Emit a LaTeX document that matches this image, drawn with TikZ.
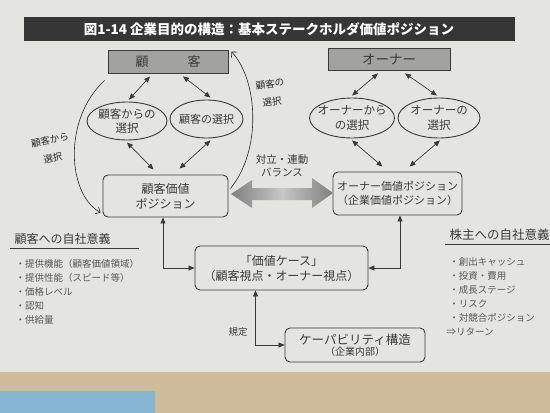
\documentclass[tikz,border=0pt]{standalone}
\usepackage{fontspec}
\newfontfamily\jp{Noto Sans CJK JP}
\usetikzlibrary{arrows.meta,shapes.geometric,calc}
\definecolor{paper}{HTML}{E4E5E1}
\definecolor{ink}{HTML}{3A3A3A}
\definecolor{boxgray}{HTML}{A2A2A0}
\definecolor{bar}{HTML}{363636}
\definecolor{strip}{HTML}{CDBB9C}
\definecolor{bluepatch}{HTML}{86B6D2}
\pgfdeclarehorizontalshading{dbl}{100bp}{color(0bp)=(black!78); color(50bp)=(black!22); color(100bp)=(black!78)}
\begin{document}
\begin{tikzpicture}[x=1pt,y=-1pt,
  fs/.style={font=\jp\fontsize{#1}{\dimexpr #1pt+3pt\relax}\selectfont},
  vbox/.style={draw=ink, line width=0.9pt, rounded corners=5pt, fill=paper, align=center, inner sep=0pt, text=ink},
  topbox/.style={draw=ink, line width=0.8pt, fill=boxgray, align=center, inner sep=0pt, text=ink},
  ell/.style={draw=ink, line width=0.9pt, ellipse, fill=paper, align=center, inner xsep=-12pt, inner ysep=-12pt, text=ink},
  dar/.style={draw=ink, line width=0.7pt, {Triangle[length=6pt,width=5pt]}-{Triangle[length=6pt,width=5pt]}},
  hand/.style={draw=black!85, line width=0.6pt},
  handtxt/.style={text=black!85, fs=9.5}
]
\useasboundingbox (0,0) rectangle (550,413);
\clip (0,0) rectangle (550,413);
% background
\fill[paper] (0,0) rectangle (550,372);
\fill[strip] (0,372) rectangle (550,413);
\fill[bluepatch] (0,391) rectangle (155,413);
% title bar
\fill[bar] (24,17) rectangle (515,41);
\node[text=white, font=\jp\bfseries\fontsize{13.5}{16}\selectfont] (title) at (269,29) {図1-14 企業目的の構造：基本ステークホルダ価値ポジション};

% top boxes
\node[topbox, minimum width=120pt, minimum height=23pt, fs=13] (kyaku) at (168,61.5) {顧\hspace{3em}客};
\node[topbox, minimum width=122pt, minimum height=22pt, fs=13.5] (owner) at (389,59) {オーナー};

% ellipses
\node[ell, minimum width=80pt, minimum height=38pt, fs=11.5] (e1) at (127,121) {顧客からの\\選択};
\node[ell, minimum width=73pt, minimum height=38pt, fs=11] (e2) at (206.5,119) {顧客の選択};
\node[ell, minimum width=85pt, minimum height=40pt, fs=11.5] (e3) at (352,118) {オーナーから\\の選択};
\node[ell, minimum width=82pt, minimum height=40pt, fs=11.5] (e4) at (439,118) {オーナーの\\選択};

% value position boxes
\node[vbox, minimum width=125pt, minimum height=42pt, fs=12] (kv) at (165.5,196) {顧客価値\\ポジション};
\node[vbox, minimum width=129pt, minimum height=43pt, fs=11] (ov) at (397.5,193.5) {オーナー価値ポジション\\（企業価値ポジション）};

% value case
\node[vbox, minimum width=173pt, minimum height=44pt, fs=12] (case) at (281.5,268) {「価値ケース」\\（顧客視点・オーナー視点）};
% capability
\node[vbox, minimum width=140pt, minimum height=34pt, align=center] (cap) at (355,345) {{\jp\fontsize{12.5}{14}\selectfont ケーパビリティ構造}\\[-1pt]{\jp\fontsize{10}{12}\selectfont （企業内部）}};

% arrows top
\draw[dar] ($(kyaku.south)+(-18,3)$) -- ($(e1.north)+(2,-2)$);
\draw[dar] ($(kyaku.south)+(15,3)$) -- ($(e2.north)+(4,-2)$);
\draw[dar] ($(e1.south)+(0,2)$) -- ($(kv.north)+(-12,-5)$);
\draw[dar] ($(e2.south)+(4,2)$) -- ($(kv.north)+(14,-6)$);
\draw[dar] ($(owner.south)+(-11,3)$) -- ($(e3.north)+(0,-2)$);
\draw[dar] ($(owner.south)+(16,3)$) -- ($(e4.north)+(-2,-2)$);
\draw[dar] ($(e3.south)+(0,2)$) -- ($(ov.north)+(-15,-5)$);
\draw[dar] ($(e4.south)+(1,2)$) -- ($(ov.north)+(12,-5)$);

% big double arrow
\shade[shading=dbl] (231,194) -- (252,180) -- (252,188) -- (312,188) -- (312,178) -- (333,193) -- (312,208) -- (312,200) -- (252,200) -- (252,208) -- cycle;
\node[fs=10.5, text=ink, align=center] (bal) at (282,166) {対立・連動\\バランス};

% elbow arrows
\draw[dar] ($(kv.south)+(-2.5,0)$) |- (case.west);
\draw[dar] ($(ov.south)+(2.5,0)$) |- (case.east);
\draw[dar] ($(case.south)+(-26,0)$) |- (cap.west);
\node[fs=9.5, text=ink] (kitei) at (238,332) {規定};

% handwritten annotations
\draw[hand, -{Straight Barb[length=4pt]}] ($(kyaku.south west)+(-3,7)$) .. controls (62,120) and (68,195) .. ($(kv.south west)+(-2,-5)$);
\draw[hand, -{Straight Barb[length=4pt]}] ($(kv.north east)+(2,14)$) .. controls (262,150) and (258,80) .. ($(kyaku.north east)+(3,2)$);
\node[handtxt, rotate=12] (hl1) at (50,140) {顧客から};
\node[handtxt, rotate=12] (hl2) at (53,158) {選択};
\node[handtxt, rotate=8] (hr1) at (270,84) {顧客の};
\node[handtxt, rotate=8] (hr2) at (272,102) {選択};

% left list
\node[anchor=west, fs=12, text=ink] (lh) at (11,239) {顧客への自社意義};
\draw[ink, line width=0.9pt] (10,248.5) -- (139,248.5);
\node[anchor=north west, fs=9.5, text=ink!85, align=left] (ll) at (12,256) {・提供機能（顧客価値領域）\\[1.5pt]・提供性能（スピード等）\\[1.5pt]・価格レベル\\[1.5pt]・認知\\[1.5pt]・供給量};

% right list
\node[anchor=west, fs=12.5, text=ink] (rh) at (446,235) {株主への自社意義};
\draw[ink, line width=0.9pt] (445,244.5) -- (550,244.5);
\node[anchor=north west, fs=9.5, text=ink!85, align=left] (rl) at (443,254) {\hspace{0.3em}・創出キャッシュ\\[1.5pt]\hspace{0.3em}・投資・費用\\[1.5pt]\hspace{0.3em}・成長ステージ\\[1.5pt]\hspace{0.3em}・リスク\\[1.5pt]\hspace{0.3em}・対競合ポジション\\[1.5pt]⇒リターン};
\end{tikzpicture}
\end{document}
